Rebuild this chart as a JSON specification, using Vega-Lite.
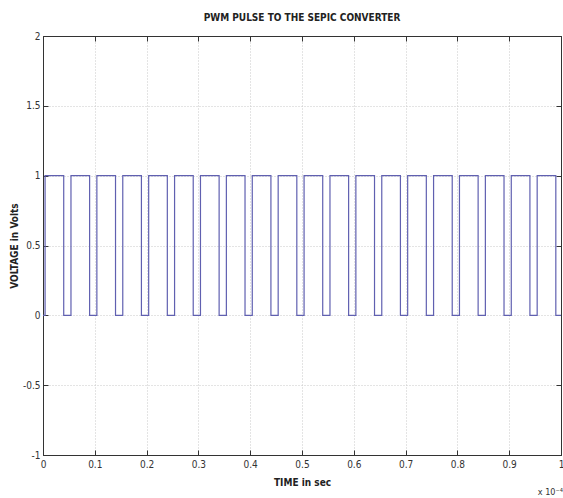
{
  "$schema": "https://vega.github.io/schema/vega-lite/v6.json",
  "width": 518,
  "height": 419,
  "autosize": {"type": "none"},
  "padding": {"left": 43, "top": 36, "right": 2, "bottom": 43},
  "background": "white",
  "title": {"text": "PWM PULSE TO THE SEPIC CONVERTER", "fontSize": 10, "font": "Liberation Sans Narrow, DejaVu Sans Condensed, sans-serif", "fontWeight": "bold", "color": "#222", "offset": 8},
  "config": {
    "view": {"stroke": "#333", "strokeWidth": 1},
    "axis": {"labelFont": "Liberation Sans Narrow, DejaVu Sans Condensed, sans-serif", "titleFont": "Liberation Sans Narrow, DejaVu Sans Condensed, sans-serif", "labelFontSize": 10, "titleFontSize": 10, "labelColor": "#333", "titleColor": "#222", "titleFontWeight": "bold", "domainColor": "#333", "tickColor": "#333", "gridColor": "#c8c8c8", "gridDash": [1, 2]}
  },
  "datasets": {
    "pwm": [
      {"t": 0, "v": 0}, {"t": 0.004, "v": 1},
      {"t": 0.04, "v": 0}, {"t": 0.054, "v": 1},
      {"t": 0.09, "v": 0}, {"t": 0.104, "v": 1},
      {"t": 0.14, "v": 0}, {"t": 0.154, "v": 1},
      {"t": 0.19, "v": 0}, {"t": 0.204, "v": 1},
      {"t": 0.24, "v": 0}, {"t": 0.254, "v": 1},
      {"t": 0.29, "v": 0}, {"t": 0.304, "v": 1},
      {"t": 0.34, "v": 0}, {"t": 0.354, "v": 1},
      {"t": 0.39, "v": 0}, {"t": 0.404, "v": 1},
      {"t": 0.44, "v": 0}, {"t": 0.454, "v": 1},
      {"t": 0.49, "v": 0}, {"t": 0.504, "v": 1},
      {"t": 0.54, "v": 0}, {"t": 0.554, "v": 1},
      {"t": 0.59, "v": 0}, {"t": 0.604, "v": 1},
      {"t": 0.64, "v": 0}, {"t": 0.654, "v": 1},
      {"t": 0.69, "v": 0}, {"t": 0.704, "v": 1},
      {"t": 0.74, "v": 0}, {"t": 0.754, "v": 1},
      {"t": 0.79, "v": 0}, {"t": 0.804, "v": 1},
      {"t": 0.84, "v": 0}, {"t": 0.854, "v": 1},
      {"t": 0.89, "v": 0}, {"t": 0.904, "v": 1},
      {"t": 0.94, "v": 0}, {"t": 0.954, "v": 1},
      {"t": 0.99, "v": 0}, {"t": 1, "v": 0}
    ]
  },
  "resolve": {"axis": {"x": "independent", "y": "independent"}},
  "layer": [
    {
      "data": {"name": "pwm"},
      "mark": {"type": "line", "interpolate": "step-after", "color": "#6060b0", "strokeWidth": 1.2, "clip": true},
      "encoding": {
        "x": {"field": "t", "type": "quantitative", "scale": {"domain": [0, 1], "nice": false, "zero": false},
          "axis": {"title": "TIME in sec", "titlePadding": 8, "values": [0, 0.1, 0.2, 0.3, 0.4, 0.5, 0.6, 0.7, 0.8, 0.9, 1], "labelExpr": "replace(format(datum.value, '~g'), '−', '-')", "tickSize": -5, "labelPadding": 9, "grid": true, "labelFlush": false}},
        "y": {"field": "v", "type": "quantitative", "scale": {"domain": [-1, 2], "nice": false, "zero": false},
          "axis": {"title": "VOLTAGE in Volts", "titlePadding": 3, "values": [-1, -0.5, 0, 0.5, 1, 1.5, 2], "labelExpr": "replace(format(datum.value, '~g'), '−', '-')", "tickSize": -5, "labelPadding": 8, "grid": true, "labelFlush": false}}
      }
    },
    {
      "data": {"values": [{"t": 0, "v": 0}]},
      "mark": {"type": "point", "opacity": 0},
      "encoding": {
        "x": {"field": "t", "type": "quantitative", "axis": {"orient": "top", "title": null, "labels": false, "grid": false, "tickSize": -5, "values": [0, 0.1, 0.2, 0.3, 0.4, 0.5, 0.6, 0.7, 0.8, 0.9, 1]}},
        "y": {"field": "v", "type": "quantitative", "axis": {"orient": "right", "title": null, "labels": false, "grid": false, "tickSize": -5, "values": [-1, -0.5, 0, 0.5, 1, 1.5, 2]}}
      }
    },
    {
      "data": {"values": [{"t": 1, "v": -1, "label": "x 10⁻⁴"}]},
      "mark": {"type": "text", "fontSize": 9, "font": "Liberation Sans Narrow, DejaVu Sans Condensed, sans-serif", "color": "#333", "dy": 37, "dx": 2, "align": "right"},
      "encoding": {
        "x": {"field": "t", "type": "quantitative", "axis": null},
        "y": {"field": "v", "type": "quantitative", "axis": null},
        "text": {"field": "label"}
      }
    }
  ]
}
